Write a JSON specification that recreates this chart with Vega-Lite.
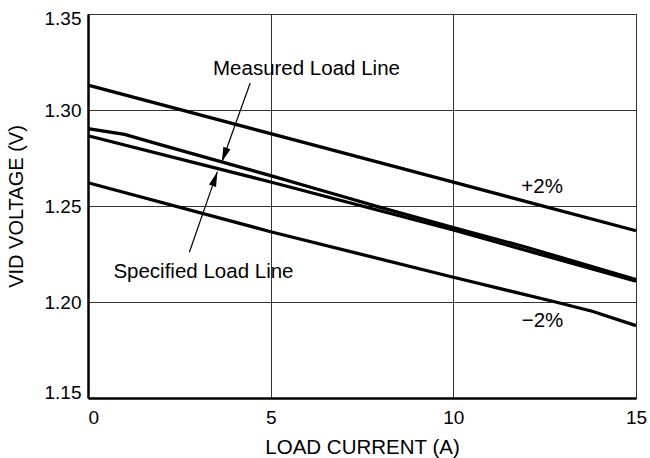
{
  "$schema": "https://vega.github.io/schema/vega-lite/v6.json",
  "width": 548,
  "height": 384,
  "autosize": {"type": "none"},
  "padding": {"left": 88, "top": 14, "right": 14, "bottom": 60},
  "background": "white",
  "config": {
    "view": {"stroke": "#444", "strokeWidth": 1},
    "font": "Liberation Sans"
  },
  "datasets": {
    "lines": [
      {"series": "+2%", "x": 0, "v": 1.313},
      {"series": "+2%", "x": 5, "v": 1.2877},
      {"series": "+2%", "x": 10, "v": 1.2624},
      {"series": "+2%", "x": 15, "v": 1.2371},
      {"series": "Specified", "x": 0, "v": 1.2866},
      {"series": "Specified", "x": 5, "v": 1.2625},
      {"series": "Specified", "x": 10, "v": 1.2375},
      {"series": "Specified", "x": 15, "v": 1.2108},
      {"series": "Measured", "x": 0, "v": 1.2903},
      {"series": "Measured", "x": 1, "v": 1.2873},
      {"series": "Measured", "x": 2, "v": 1.2818},
      {"series": "Measured", "x": 3, "v": 1.2765},
      {"series": "Measured", "x": 4, "v": 1.2712},
      {"series": "Measured", "x": 5, "v": 1.2658},
      {"series": "Measured", "x": 6, "v": 1.2603},
      {"series": "Measured", "x": 7, "v": 1.2548},
      {"series": "Measured", "x": 8, "v": 1.2493},
      {"series": "Measured", "x": 10, "v": 1.2388},
      {"series": "Measured", "x": 12, "v": 1.2285},
      {"series": "Measured", "x": 15, "v": 1.2117},
      {"series": "-2%", "x": 0, "v": 1.2621},
      {"series": "-2%", "x": 5, "v": 1.2366},
      {"series": "-2%", "x": 10, "v": 1.2129},
      {"series": "-2%", "x": 12.8, "v": 1.2},
      {"series": "-2%", "x": 13.8, "v": 1.1952},
      {"series": "-2%", "x": 15, "v": 1.1877}
    ],
    "labels": [
      {"label": "Measured Load Line", "x": 5.98, "v": 1.3182},
      {"label": "Specified Load Line", "x": 3.16, "v": 1.2123},
      {"label": "+2%", "x": 12.43, "v": 1.2566},
      {"label": "−2%", "x": 12.44, "v": 1.1868}
    ],
    "arrows": [
      {"name": "Measured", "xs": 4.44, "vs": 1.3141, "x": 3.663, "v": 1.2729},
      {"name": "Specified", "xs": 2.775, "vs": 1.2259, "x": 3.542, "v": 1.2679}
    ]
  },
  "layer": [
    {
      "data": {"name": "lines"},
      "mark": {"type": "line", "color": "black", "strokeWidth": 3.3},
      "encoding": {
        "x": {
          "field": "x", "type": "quantitative",
          "scale": {"domain": [0, 15], "nice": false, "zero": false},
          "title": "LOAD CURRENT (A)",
          "axis": {
            "values": [0, 5, 10, 15],
            "grid": true, "gridColor": "#333", "gridWidth": 1,
            "ticks": false, "tickSize": 0,
            "domainColor": "black", "domainWidth": 2.5,
            "labelFontSize": 19, "labelColor": "black", "labelPadding": 10,
            "labelFlush": false,
            "labelAlign": {"condition": {"test": "datum.value == 0", "value": "left"}, "value": "center"},
            "titleFontSize": 20.5, "titleFontWeight": "normal", "titleColor": "black", "titlePadding": 10
          }
        },
        "y": {
          "field": "v", "type": "quantitative",
          "scale": {"domain": [1.15, 1.35], "nice": false, "zero": false},
          "title": "VID VOLTAGE (V)",
          "axis": {
            "values": [1.15, 1.2, 1.25, 1.3, 1.35],
            "format": ".2f",
            "grid": true, "gridColor": "#333", "gridWidth": 1,
            "ticks": false, "tickSize": 0,
            "domainColor": "black", "domainWidth": 2.5,
            "labelFontSize": 19, "labelColor": "black", "labelPadding": 7,
            "labelFlush": false,
            "labelOffset": {"condition": [{"test": "datum.value > 1.34", "value": 4}, {"test": "datum.value < 1.16", "value": -6}], "value": 0},
            "titleFontSize": 20, "titleFontWeight": "normal", "titleColor": "black", "titlePadding": 18
          }
        },
        "detail": {"field": "series"}
      }
    },
    {
      "data": {"name": "labels"},
      "mark": {"type": "text", "fontSize": 20.5, "color": "black", "align": "center", "baseline": "alphabetic"},
      "encoding": {
        "x": {"field": "x", "type": "quantitative", "title": "LOAD CURRENT (A)"},
        "y": {"field": "v", "type": "quantitative", "title": "VID VOLTAGE (V)"},
        "text": {"field": "label"}
      }
    },
    {
      "data": {"name": "arrows"},
      "mark": {"type": "rule", "color": "black", "strokeWidth": 1.2},
      "encoding": {
        "x": {"field": "xs", "type": "quantitative", "title": "LOAD CURRENT (A)"},
        "y": {"field": "vs", "type": "quantitative", "title": "VID VOLTAGE (V)"},
        "x2": {"field": "x"},
        "y2": {"field": "v"}
      }
    },
    {
      "data": {"name": "arrows"},
      "transform": [{"filter": "datum.name == 'Measured'"}],
      "mark": {"type": "point", "shape": "M0,0L0.5,2L-0.5,2Z", "filled": true, "color": "black", "opacity": 1, "size": 225, "angle": 199.7, "strokeWidth": 0},
      "encoding": {
        "x": {"field": "x", "type": "quantitative", "title": "LOAD CURRENT (A)"},
        "y": {"field": "v", "type": "quantitative", "title": "VID VOLTAGE (V)"}
      }
    },
    {
      "data": {"name": "arrows"},
      "transform": [{"filter": "datum.name == 'Specified'"}],
      "mark": {"type": "point", "shape": "M0,0L0.5,2L-0.5,2Z", "filled": true, "color": "black", "opacity": 1, "size": 225, "angle": 19.1, "strokeWidth": 0},
      "encoding": {
        "x": {"field": "x", "type": "quantitative", "title": "LOAD CURRENT (A)"},
        "y": {"field": "v", "type": "quantitative", "title": "VID VOLTAGE (V)"}
      }
    }
  ]
}
